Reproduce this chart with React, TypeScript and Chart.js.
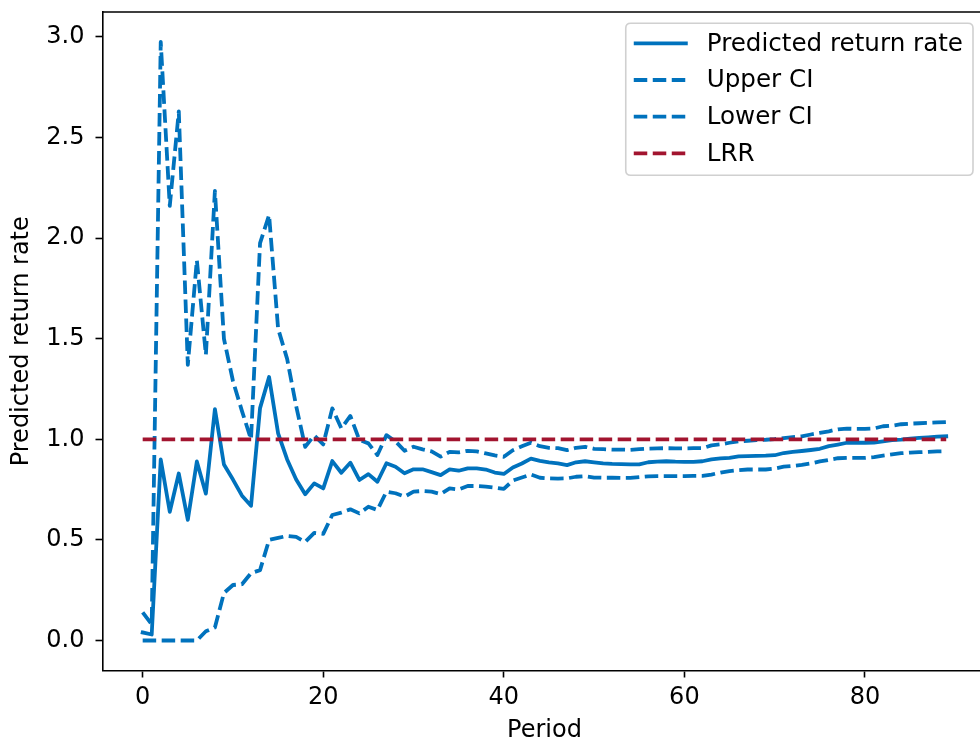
import React, { useEffect, useRef } from "react";
import { Chart, registerables } from "chart.js";

Chart.register(...registerables);

const periods = [
  0, 1, 2, 3, 4, 5, 6, 7, 8, 9, 10, 11, 12, 13, 14, 15, 16, 17, 18, 19,
  20, 21, 22, 23, 24, 25, 26, 27, 28, 29, 30, 31, 32, 33, 34, 35, 36, 37, 38, 39,
  40, 41, 42, 43, 44, 45, 46, 47, 48, 49, 50, 51, 52, 53, 54, 55, 56, 57, 58, 59,
  60, 61, 62, 63, 64, 65, 66, 67, 68, 69, 70, 71, 72, 73, 74, 75, 76, 77, 78, 79,
  80, 81, 82, 83, 84, 85, 86, 87, 88, 89,
];

const predicted = [
  0.04, 0.03, 0.9, 0.64, 0.83, 0.6, 0.89, 0.73, 1.15, 0.875,
  0.8, 0.72, 0.67, 1.155, 1.31, 1.03, 0.9, 0.8, 0.727, 0.781,
  0.756, 0.892, 0.834, 0.884, 0.798, 0.827, 0.789, 0.881, 0.864, 0.831,
  0.851, 0.851, 0.837, 0.822, 0.851, 0.844, 0.856, 0.856, 0.85, 0.835,
  0.828, 0.86, 0.88, 0.904, 0.893, 0.885, 0.88, 0.872, 0.886, 0.891,
  0.886, 0.88, 0.878, 0.877, 0.876, 0.876, 0.886, 0.889, 0.891, 0.889,
  0.888, 0.888, 0.891, 0.9, 0.905, 0.908, 0.915, 0.917, 0.918, 0.919,
  0.921, 0.932, 0.938, 0.942, 0.947, 0.953, 0.966, 0.974, 0.983, 0.983,
  0.983, 0.984, 0.99, 0.996, 0.999, 1.003, 1.007, 1.01, 1.013, 1.015,
];

const upperCI = [
  0.14, 0.08, 2.975, 2.16, 2.63, 1.37, 1.89, 1.42, 2.235, 1.5,
  1.29, 1.14, 1.0, 1.975, 2.115, 1.55, 1.4, 1.165, 0.963, 1.02,
  0.975, 1.154, 1.055, 1.116, 0.997, 0.98, 0.922, 1.021, 0.99, 0.943,
  0.963, 0.95, 0.94, 0.914, 0.938, 0.935, 0.943, 0.94, 0.93, 0.92,
  0.913, 0.946, 0.965, 0.983, 0.966, 0.958, 0.956, 0.946, 0.958, 0.963,
  0.953, 0.951, 0.949, 0.949, 0.948, 0.951, 0.954, 0.955, 0.956, 0.955,
  0.955, 0.956, 0.956, 0.97, 0.975, 0.983, 0.99, 0.993, 0.996, 0.998,
  1.001, 1.006, 1.011, 1.015, 1.024, 1.032, 1.04, 1.05, 1.053, 1.052,
  1.052, 1.054, 1.065, 1.068, 1.075, 1.078, 1.08, 1.082, 1.084, 1.086,
];

const lowerCI = [
  0, 0, 0, 0, 0, 0, 0, 0.046, 0.065, 0.236,
  0.276, 0.28, 0.335, 0.35, 0.5, 0.51, 0.52, 0.515, 0.49, 0.535,
  0.53, 0.624, 0.636, 0.652, 0.632, 0.665, 0.649, 0.74, 0.732, 0.715,
  0.74, 0.743, 0.74, 0.728, 0.756, 0.751, 0.768, 0.768, 0.765, 0.76,
  0.754, 0.795, 0.81, 0.825, 0.809, 0.806, 0.805, 0.806, 0.814, 0.817,
  0.81, 0.809, 0.809, 0.808, 0.808, 0.812, 0.816, 0.817, 0.817, 0.817,
  0.817, 0.818, 0.818, 0.825, 0.835, 0.842, 0.847, 0.85, 0.85, 0.85,
  0.855, 0.864, 0.868, 0.873, 0.88, 0.89, 0.898, 0.906, 0.908, 0.908,
  0.908, 0.912, 0.919, 0.925, 0.931, 0.934, 0.936, 0.938, 0.94, 0.941,
];

const lrrPeriods = [0, 89];
const lrrValues = [1.0, 1.0];

const xTickValues = [0, 20, 40, 60, 80];
const yTickValues = [0, 0.5, 1.0, 1.5, 2.0, 2.5, 3.0];

const seriesLabels = ["Predicted return rate", "Upper CI", "Lower CI", "LRR"];
const xTitle = "Period";
const yTitle = "Predicted return rate";

const BLUE = "#0072BD";
const RED = "#A2142F";
const FONT = "DejaVu Sans";
const LW = 3.8;
const DASH = [13.5, 5.5];

const legendStyles = [
  { color: BLUE, dash: [] as number[] },
  { color: BLUE, dash: DASH },
  { color: BLUE, dash: DASH },
  { color: RED, dash: DASH },
];

const decorPlugin = {
  id: "decor",
  afterDraw(chart: any) {
    const { ctx, chartArea } = chart;
    const { left, right, top, bottom } = chartArea;
    ctx.save();
    // top & right spines
    ctx.strokeStyle = "#000";
    ctx.lineWidth = 1.6;
    ctx.setLineDash([]);
    ctx.beginPath();
    ctx.moveTo(left, top);
    ctx.lineTo(right, top);
    ctx.lineTo(right, bottom);
    ctx.stroke();

    // axis titles
    ctx.fillStyle = "#000";
    ctx.font = `24px "${FONT}"`;
    ctx.textAlign = "center";
    ctx.textBaseline = "middle";
    ctx.fillText(xTitle, (left + right) / 2, 731);
    ctx.save();
    ctx.translate(22, (top + bottom) / 2);
    ctx.rotate(-Math.PI / 2);
    ctx.fillText(yTitle, 0, 0);
    ctx.restore();

    // legend
    ctx.font = `24.6px "${FONT}"`;
    let textW = 0;
    seriesLabels.forEach((l) => {
      textW = Math.max(textW, ctx.measureText(l).width);
    });
    const boxRight = right - 13.4;
    const boxTop = top + 11.3;
    const rowH = 36.7;
    const boxLeft = boxRight - (10 + textW + 19 + 54 + 8);
    const boxBottom = boxTop + 152;
    const r = 5;
    ctx.beginPath();
    ctx.moveTo(boxLeft + r, boxTop);
    ctx.lineTo(boxRight - r, boxTop);
    ctx.quadraticCurveTo(boxRight, boxTop, boxRight, boxTop + r);
    ctx.lineTo(boxRight, boxBottom - r);
    ctx.quadraticCurveTo(boxRight, boxBottom, boxRight - r, boxBottom);
    ctx.lineTo(boxLeft + r, boxBottom);
    ctx.quadraticCurveTo(boxLeft, boxBottom, boxLeft, boxBottom - r);
    ctx.lineTo(boxLeft, boxTop + r);
    ctx.quadraticCurveTo(boxLeft, boxTop, boxLeft + r, boxTop);
    ctx.closePath();
    ctx.fillStyle = "rgba(255,255,255,0.8)";
    ctx.fill();
    ctx.strokeStyle = "#d0d0d0";
    ctx.lineWidth = 1.6;
    ctx.stroke();

    const hx0 = boxLeft + 8;
    const hx1 = hx0 + 54;
    seriesLabels.forEach((label, i) => {
      const cy = boxTop + 20 + i * rowH;
      const st = legendStyles[i];
      ctx.strokeStyle = st.color;
      ctx.lineWidth = LW;
      ctx.lineCap = "butt";
      ctx.setLineDash(st.dash);
      ctx.beginPath();
      ctx.moveTo(hx0, cy);
      ctx.lineTo(hx1, cy);
      ctx.stroke();
      ctx.setLineDash([]);
      ctx.fillStyle = "#000";
      ctx.textAlign = "left";
      ctx.textBaseline = "middle";
      ctx.fillText(label, hx1 + 19, cy + 1);
    });
    ctx.restore();
  },
};

export default function App() {
  const canvasRef = useRef<HTMLCanvasElement | null>(null);

  useEffect(() => {
    const canvas = canvasRef.current;
    if (!canvas) return;
    const mk = (ys: number[]) => periods.map((p, i) => ({ x: p, y: ys[i] }));
    const chart = new Chart(canvas, {
      type: "line",
      data: {
        datasets: [
          {
            label: seriesLabels[0],
            data: mk(predicted),
            borderColor: BLUE,
            borderWidth: LW,
            pointRadius: 0,
            tension: 0,
            borderJoinStyle: "round",
            borderCapStyle: "square",
            order: 4,
          },
          {
            label: seriesLabels[1],
            data: mk(upperCI),
            borderColor: BLUE,
            borderWidth: LW,
            borderDash: DASH,
            pointRadius: 0,
            tension: 0,
            borderJoinStyle: "round",
            borderCapStyle: "butt",
            order: 3,
          },
          {
            label: seriesLabels[2],
            data: mk(lowerCI),
            borderColor: BLUE,
            borderWidth: LW,
            borderDash: DASH,
            pointRadius: 0,
            tension: 0,
            borderJoinStyle: "round",
            borderCapStyle: "butt",
            order: 2,
          },
          {
            label: seriesLabels[3],
            data: lrrPeriods.map((p, i) => ({ x: p, y: lrrValues[i] })),
            borderColor: RED,
            borderWidth: LW,
            borderDash: DASH,
            pointRadius: 0,
            tension: 0,
            borderCapStyle: "butt",
            order: 1,
          },
        ],
      },
      options: {
        responsive: false,
        animation: false,
        devicePixelRatio: 1,
        layout: { padding: { left: 0, top: 12, right: 13.6, bottom: 0 } },
        plugins: { legend: { display: false }, tooltip: { enabled: false } },
        scales: {
          x: {
            type: "linear",
            min: -4.45,
            max: 93.45,
            afterBuildTicks: (s: any) => {
              s.ticks = xTickValues.map((v) => ({ value: v }));
            },
            afterFit: (s: any) => {
              s.height = 76.5;
              s.paddingLeft = 0;
              s.paddingRight = 0;
            },
            grid: {
              drawOnChartArea: false,
              drawTicks: true,
              tickLength: 7,
              tickWidth: 1.6,
              color: "#000",
            },
            border: { display: true, color: "#000", width: 1.6 },
            ticks: {
              color: "#000",
              font: { family: FONT, size: 24 },
              padding: 6,
              maxRotation: 0,
              autoSkip: false,
              callback: (v: any) => String(v),
            },
          },
          y: {
            type: "linear",
            min: -0.149,
            max: 3.124,
            afterBuildTicks: (s: any) => {
              s.ticks = yTickValues.map((v) => ({ value: v }));
            },
            afterFit: (s: any) => {
              s.width = 102.5;
              s.paddingTop = 0;
              s.paddingBottom = 0;
            },
            grid: {
              drawOnChartArea: false,
              drawTicks: true,
              tickLength: 7,
              tickWidth: 1.6,
              color: "#000",
            },
            border: { display: true, color: "#000", width: 1.6 },
            ticks: {
              color: "#000",
              font: { family: FONT, size: 24 },
              padding: 11,
              autoSkip: false,
              callback: (v: any) => Number(v).toFixed(1),
            },
          },
        },
      },
      plugins: [decorPlugin],
    });
    return () => chart.destroy();
  }, []);

  return (
    <div
      style={{
        position: "fixed",
        left: 0,
        top: 0,
        width: 980,
        height: 747,
        overflow: "hidden",
        background: "#fff",
      }}
    >
      <canvas ref={canvasRef} width={1000} height={747} style={{ display: "block" }} />
    </div>
  );
}
